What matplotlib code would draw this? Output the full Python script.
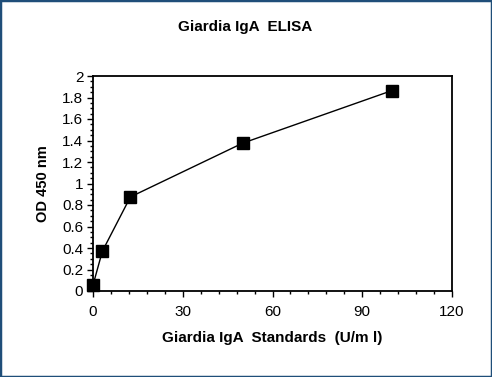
import matplotlib
matplotlib.use("Agg")
import matplotlib.pyplot as plt
from matplotlib.ticker import MultipleLocator, FuncFormatter
from matplotlib.patches import Rectangle

conc = [0, 3.125, 12.5, 50, 100]
od = [0.055, 0.37, 0.875, 1.375, 1.865]
x_ticks = [0, 30, 60, 90, 120]
y_ticks = [0, 0.2, 0.4, 0.6, 0.8, 1, 1.2, 1.4, 1.6, 1.8, 2]

plt.rcParams['font.family'] = ['Liberation Sans', 'DejaVu Sans']

fig = plt.figure(figsize=(4.92, 3.77), dpi=100)
ax = fig.add_axes([93/492, 1-291/377, (452-93)/492, (291-76)/377])

ax.plot(conc, od, color='black', lw=1.0, marker='s', markersize=8,
        markerfacecolor='black', markeredgecolor='black', clip_on=False, zorder=3)

ax.set_xlim(0, 120)
ax.set_ylim(0, 2)
ax.set_xticks(x_ticks)
ax.set_yticks(y_ticks)
ax.xaxis.set_minor_locator(MultipleLocator(6))
ax.yaxis.set_minor_locator(MultipleLocator(0.05))
ax.yaxis.set_major_formatter(FuncFormatter(lambda v, p: ('%g' % v)))
ax.tick_params(axis='both', which='major', direction='out', length=4, width=1,
               labelsize=11, colors='black', top=False, right=False)
ax.tick_params(axis='both', which='minor', direction='out', length=2.5, width=1,
               top=False, right=False)
ax.tick_params(axis='x', pad=6)
ax.tick_params(axis='y', pad=3)
for s in ax.spines.values():
    s.set_linewidth(1.3)
    s.set_color('black')

ax.set_xlabel('Giardia IgA  Standards  (U/m l)', fontsize=11, fontweight='bold', labelpad=9)
ax.set_ylabel('OD 450 nm', fontsize=10.5, fontweight='bold', labelpad=9)
fig.text(245/492, 1-27/377, 'Giardia IgA  ELISA', ha='center', va='center',
         fontsize=11, fontweight='bold')

fig.patches.append(Rectangle((0, 0), 1, 1, transform=fig.transFigure, fill=False,
                             edgecolor='#1F4E79', linewidth=2.5))

fig.savefig('out.png', dpi=100)
